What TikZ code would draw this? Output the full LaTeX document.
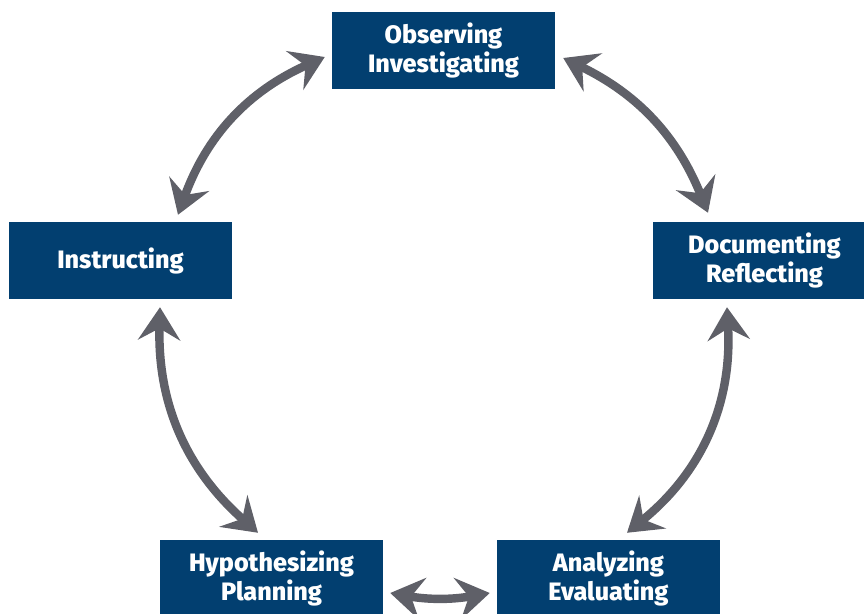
\documentclass[tikz,border=0pt]{standalone}
\usepackage{fontspec}
\setmainfont{Fira Sans}[BoldFont={Fira Sans ExtraBold}]
\usetikzlibrary{arrows.meta}
\definecolor{boxblue}{HTML}{023F70}
\definecolor{arrowgray}{HTML}{5F6068}
\tikzset{stage/.style = {fill=boxblue, text=white, align=center,
                         font=\bfseries\fontsize{21.5}{24}\selectfont,
                         minimum width=6.69cm, minimum height=2.31cm, inner sep=0}}
\tikzset{link/.style = {arrowgray, line width=7.2pt,
                        {Stealth[length=28pt, width=36pt, inset=10pt]}-{Stealth[length=28pt, width=36pt, inset=10pt]}}}

\begin{document}
\begin{tikzpicture}[x=0.03cm, y=-0.03cm]
      \useasboundingbox (0, 0) rectangle (864, 614);
      \node [stage] (obs) at (443.5, 50.5) {Observing\\Investigating};
      \node [stage] (doc) at (764.5, 260.5) {Documenting\\Reflecting};
      \node [stage] (ins) at (120.5, 260.5) {Instructing};
      \node [stage] (hyp) at (271.5, 578.5) {Hypothesizing\\Planning};
      \node [stage] (ana) at (608.5, 578.5) {Analyzing\\Evaluating};

      \draw [link] ([shift={(-7, 6.5)}]obs.west) to [bend right=23] ([shift={(57.5, -7)}]ins.north);
      \draw [link] ([shift={(8, 7.5)}]obs.east) to [bend left=21] ([shift={(-56.5, -9)}]doc.north);
      \draw [link] ([shift={(-37.5, 8)}]doc.south) to [bend left=27] ([shift={(18.5, -7)}]ana.north);
      \draw [link] ([shift={(39.5, 8)}]ins.south) to [bend right=25] ([shift={(-13.5, -7)}]hyp.north);
      \draw [link] ([shift={(7, 14.5)}]hyp.east) to [bend right=10] ([shift={(-7, 14.5)}]ana.west);
    \end{tikzpicture}
\end{document}
